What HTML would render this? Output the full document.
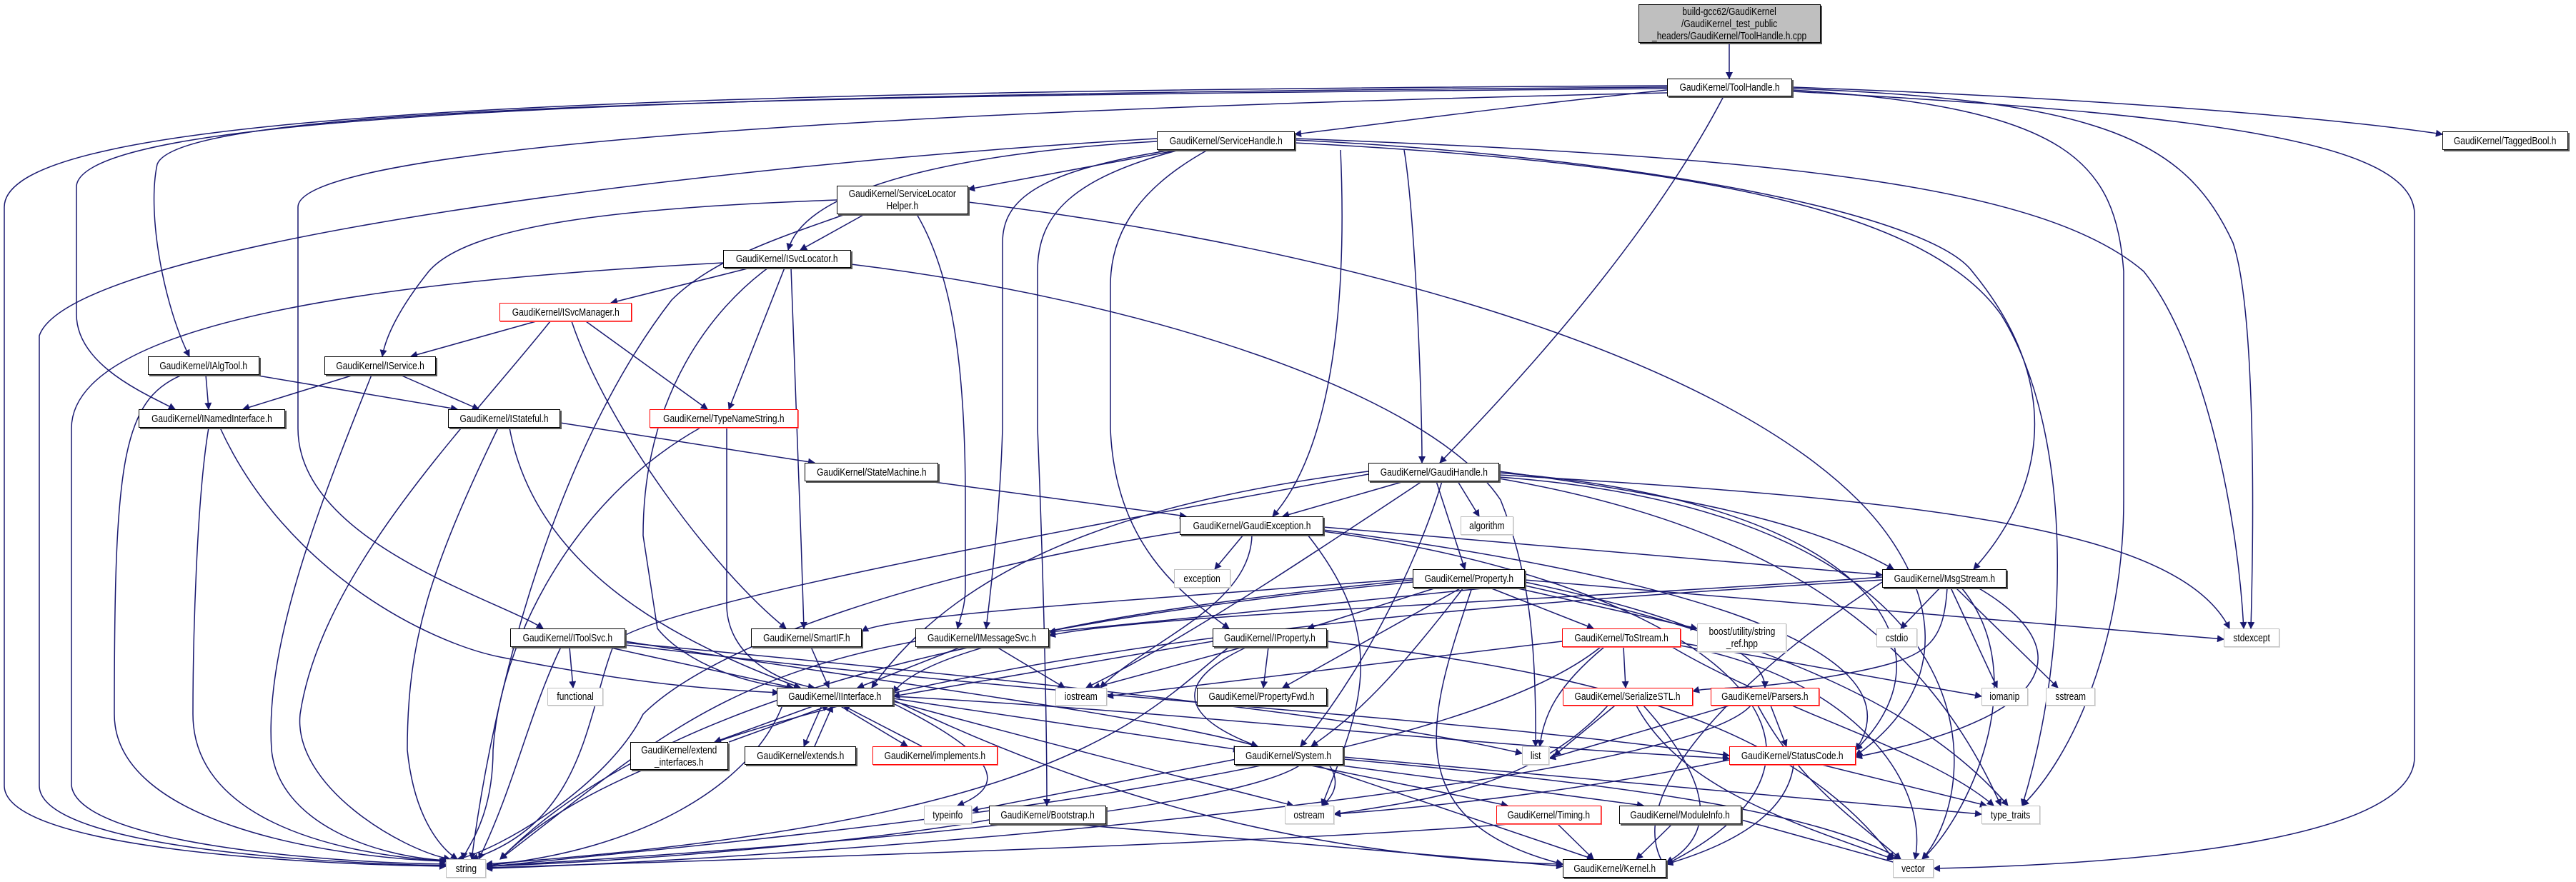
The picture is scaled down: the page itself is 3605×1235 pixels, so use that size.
<!DOCTYPE html>
<html><head><meta charset="utf-8"><style>
html,body{margin:0;padding:0;background:#fff;}
#c{position:relative;width:3605px;height:1235px;overflow:hidden;background:#fff;}
svg{position:absolute;left:0;top:0;}
.n{position:absolute;box-sizing:border-box;border:1.5px solid #000;box-shadow:2px 2px 0 #555;background:#fff;font-family:"Liberation Sans",sans-serif;font-size:15px;color:#000;display:flex;align-items:center;justify-content:center;text-align:center;line-height:17px;white-space:nowrap;}
.n span{display:inline-block;transform:scaleX(0.8);}
.g{border-color:#c0c0c0;box-shadow:1px 1px 0 #ddd;}
.r{border-color:#ff0000;box-shadow:1px 1px 0 #f66;}
</style></head><body><div id="c">
<svg width="3605" height="1235" viewBox="0 0 3605 1235">
<defs><marker id="a" viewBox="0 0 10 10" refX="9" refY="5" markerWidth="12" markerHeight="10" markerUnits="userSpaceOnUse" orient="auto"><path d="M0,0 L10,5 L0,10 z" fill="#191970"/></marker></defs>
<g fill="none" stroke="#191970" stroke-width="1.5" marker-end="url(#a)">
<path d="M2420 60 L2420 110"/>
<!-- ToolHandle -->
<path d="M2333 126 C2100 150 1900 178 1812 188"/>
<path d="M2412 135 C2300 350 2100 560 2015 648"/>
<path d="M2508 122 C3000 140 3300 170 3418 188"/>
<path d="M2333 124 C1000 135 250 150 220 230 C205 300 230 430 265 499"/>
<path d="M2333 122 C900 132 120 160 107 260 L107 440 C107 510 200 550 245 573"/>
<path d="M2333 120 C800 128 6 160 6 290 L6 1100 C6 1185 400 1210 624 1213"/>
<path d="M2333 130 C1000 160 417 220 417 290 L417 600 C417 760 700 840 760 880"/>
<path d="M2508 124 C2950 140 3060 200 3125 340 C3155 430 3155 700 3150 880"/>
<path d="M2508 126 C2900 150 2960 230 2972 380 L2972 700 C2972 900 2900 1060 2830 1128"/>
<path d="M2508 128 C3100 160 3379 200 3379 300 L3379 1060 C3379 1190 2900 1212 2706 1216"/>
<!-- ServiceHandle -->
<path d="M1650 210 L1355 265"/>
<path d="M1619 198 C1400 210 1130 250 1103 350"/>
<path d="M1876 210 C1880 300 1890 600 1781 723"/>
<path d="M1965 210 C1980 300 1990 550 1990 648"/>
<path d="M1640 210 C1450 240 1403 280 1403 340 L1403 600 C1400 700 1390 800 1380 880"/>
<path d="M1650 210 C1500 250 1452 300 1452 380 L1452 600 C1460 800 1465 1000 1465 1128"/>
<path d="M1690 210 C1600 260 1554 320 1554 400 L1554 600 C1560 760 1650 830 1720 880"/>
<path d="M1812 196 C2300 220 2700 300 2760 380 C2900 550 2850 700 2762 797"/>
<path d="M1812 194 C2500 220 2860 260 3000 380 C3080 480 3130 700 3140 880"/>
<path d="M1812 200 C2400 230 2700 300 2800 440 C2900 600 2900 900 2830 1128"/>
<path d="M1619 194 C1000 230 100 340 55 470 L55 1100 C55 1180 400 1208 624 1212"/>
<!-- SLH -->
<path d="M1210 300 L1120 350"/>
<path d="M1171 280 C900 290 660 310 600 380 C560 430 540 470 535 499"/>
<path d="M1283 300 C1330 380 1351 500 1351 700 L1351 820 C1351 850 1345 860 1340 880"/>
<path d="M1355 283 C1900 350 2400 500 2600 700 C2700 800 2750 950 2597 1058"/>
<path d="M1183 300 C1100 330 1000 360 940 420 C800 600 700 900 660 1203"/>
<!-- ISvcLocator -->
<path d="M1050 375 L855 424"/>
<path d="M1098 375 L1020 573"/>
<path d="M1107 375 C1110 500 1120 700 1125 880"/>
<path d="M1075 375 C1000 430 900 550 900 750 L920 880 C960 930 1050 960 1110 963"/>
<path d="M1191 370 C1600 420 2000 550 2100 700 C2140 800 2150 900 2149 1045"/>
<path d="M1012 368 C600 390 100 440 100 600 L100 1100 C110 1180 450 1208 624 1210"/>
<!-- ISvcManager -->
<path d="M750 450 L575 499"/>
<path d="M820 450 L990 573"/>
<path d="M800 450 C850 600 1000 800 1100 880"/>
<path d="M770 450 C650 600 450 800 420 1000 C410 1100 560 1190 630 1203"/>
<!-- IAlgTool / IService -->
<path d="M288 525 L292 573"/>
<path d="M355 525 L640 573"/>
<path d="M255 525 C170 560 160 650 160 1000 C160 1150 450 1200 624 1206"/>
<path d="M495 525 L340 573"/>
<path d="M560 525 L670 573"/>
<path d="M520 525 C450 700 370 900 380 1050 C390 1150 520 1200 628 1205"/>
<!-- INamedInterface / IStateful / TNS -->
<path d="M308 599 C400 800 600 900 700 920 C900 960 1000 965 1090 970"/>
<path d="M292 599 C275 700 270 900 270 1000 C270 1140 450 1195 626 1206"/>
<path d="M784 592 L1140 648"/>
<path d="M713 599 C750 800 950 900 1120 963"/>
<path d="M697 599 C600 800 570 900 570 1050 C580 1150 620 1190 640 1203"/>
<path d="M980 599 C800 700 700 900 690 1050 C690 1150 650 1190 648 1203"/>
<path d="M1017 599 L1017 850 C1020 920 1090 955 1140 963"/>
<!-- StateMachine -->
<path d="M1300 674 L1660 723"/>
<!-- GaudiHandle -->
<path d="M1965 674 L1795 723"/>
<path d="M2040 674 L2070 723"/>
<path d="M2010 674 L2050 797"/>
<path d="M2098 660 C2400 700 2550 740 2650 797"/>
<path d="M2018 674 C1980 800 1900 950 1820 1045"/>
<path d="M1990 674 C1800 800 1650 900 1520 963"/>
<path d="M1915 660 C1600 700 1350 780 1220 963"/>
<path d="M1915 664 C1500 740 900 850 860 900 C820 1000 820 1150 660 1203"/>
<path d="M2098 665 C2700 700 3050 740 3120 880"/>
<path d="M2098 670 C2500 740 2700 900 2800 1128"/>
<path d="M2098 668 C2800 720 2780 1100 2690 1203"/>
<path d="M2098 662 C2600 700 2750 900 2597 1050"/>
<!-- GaudiException -->
<path d="M1740 749 L1700 797"/>
<path d="M1852 738 L2634 805"/>
<path d="M1752 749 C1750 850 1600 900 1540 963"/>
<path d="M1830 749 C1950 900 1900 1000 1850 1128"/>
<path d="M1852 742 C2300 800 2700 900 2597 1050"/>
<path d="M1651 745 C1300 800 1000 900 900 1000 C850 1100 700 1190 640 1203"/>
<path d="M1852 744 C2400 820 2650 1050 2332 1210"/>
<!-- Property -->
<path d="M2010 823 L1830 880"/>
<path d="M2045 823 L1795 963"/>
<path d="M2085 823 L2230 880"/>
<path d="M2120 823 L2375 880"/>
<path d="M2048 823 C1950 950 1900 1000 1835 1045"/>
<path d="M2134 815 C2300 850 2470 900 2470 963"/>
<path d="M2060 823 C2000 1000 1950 1150 2187 1210"/>
<path d="M2134 812 L3112 895"/>
<path d="M1977 810 C1600 840 1250 860 1206 884"/>
<path d="M2134 818 C1800 850 1500 880 1468 885"/>
<path d="M1977 812 C1600 850 1300 900 1250 970"/>
<path d="M1977 815 C1300 880 900 1000 700 1203"/>
<path d="M2134 820 C2500 900 2700 1000 2810 1128"/>
<!-- MsgStream -->
<path d="M2715 823 L2660 880"/>
<path d="M2730 823 L2795 963"/>
<path d="M2737 823 L2880 963"/>
<path d="M2768 823 C2900 900 2900 1000 2597 1060"/>
<path d="M2725 823 C2720 900 2700 920 2600 940 C2450 970 2400 960 2369 968"/>
<path d="M2634 808 C2200 840 1600 860 1468 890"/>
<path d="M2634 812 C2200 840 1000 900 700 1203"/>
<path d="M2634 815 C2500 900 2250 1100 2332 1216"/>
<path d="M2745 823 C2850 950 2750 1150 2690 1203"/>
<!-- IToolSvc -->
<path d="M797 906 L802 963"/>
<path d="M850 906 L1110 963"/>
<path d="M875 898 C1200 950 1600 1000 1760 1045"/>
<path d="M875 900 C1400 950 1900 1000 2130 1055"/>
<path d="M875 903 C1500 980 2000 1000 2420 1058"/>
<path d="M785 906 C740 1000 720 1100 670 1203"/>
<!-- SmartIF / IMessageSvc / IProperty -->
<path d="M1135 906 L1160 963"/>
<path d="M1345 906 L1200 963"/>
<path d="M1395 906 L1490 963"/>
<path d="M1281 898 C1000 950 900 1050 700 1203"/>
<path d="M1697 898 L1250 975"/>
<path d="M1740 906 L1530 963"/>
<path d="M1775 906 L1768 963"/>
<path d="M1745 906 C1650 950 1640 1000 1760 1045"/>
<path d="M1720 906 C1600 1000 1500 1150 680 1210"/>
<path d="M1857 898 C2200 940 2500 1000 2650 1203"/>
<!-- ToStream -->
<path d="M2272 906 L2275 963"/>
<path d="M2186 898 L1549 975"/>
<path d="M2352 900 L2773 975"/>
<path d="M2245 906 C2180 960 2160 1000 2155 1045"/>
<path d="M2340 906 C2500 1000 2700 1050 2790 1128"/>
<path d="M2352 904 C2600 950 2700 1100 2680 1203"/>
<path d="M2240 906 C2000 1100 1000 1180 680 1214"/>
<!-- IInterface -->
<path d="M1140 988 L1000 1039"/>
<path d="M1020 1039 L1160 988"/>
<path d="M1150 988 L1125 1045"/>
<path d="M1140 1045 L1165 988"/>
<path d="M1175 988 L1270 1045"/>
<path d="M1290 1045 L1180 988"/>
<path d="M1250 978 L1735 1050"/>
<path d="M1250 985 C1400 1060 1410 1100 1340 1128"/>
<path d="M1250 982 C1500 1050 1700 1100 1810 1128"/>
<path d="M1250 980 C1500 1100 1800 1200 2187 1210"/>
<path d="M1250 975 C1700 1000 2000 1040 2420 1062"/>
<path d="M1095 988 C1050 1100 900 1190 680 1212"/>
<!-- SerializeSTL / Parsers -->
<path d="M2260 988 L2175 1058"/>
<path d="M2290 988 C2350 1100 2500 1150 2650 1203"/>
<path d="M2250 988 C2150 1100 2000 1120 1867 1140"/>
<path d="M2300 988 C2400 1100 2400 1170 2332 1208"/>
<path d="M2478 988 L2500 1045"/>
<path d="M2420 988 L2168 1062"/>
<path d="M2460 988 C2520 1100 2600 1150 2660 1203"/>
<path d="M2450 988 C2350 1100 1200 1200 680 1216"/>
<!-- System -->
<path d="M1735 1062 L1360 1135"/>
<path d="M1830 1071 L2110 1128"/>
<path d="M1870 1071 L2300 1128"/>
<path d="M1840 1071 L2230 1203"/>
<path d="M1820 1071 C1700 1150 900 1200 680 1213"/>
<path d="M1860 1071 C1880 1100 1860 1120 1850 1128"/>
<path d="M1880 1063 C2300 1100 2550 1140 2660 1203"/>
<path d="M1880 1060 L2773 1140"/>
<!-- StatusCode -->
<path d="M2550 1071 L2780 1128"/>
<path d="M2510 1071 C2500 1150 2400 1190 2332 1210"/>
<path d="M2420 1064 C2200 1110 2000 1130 1867 1140"/>
<!-- Timing / ModuleInfo / Bootstrap -->
<path d="M2180 1154 L2230 1203"/>
<path d="M2110 1154 C1800 1180 1000 1205 680 1215"/>
<path d="M2340 1154 L2290 1203"/>
<path d="M2437 1148 L2660 1210"/>
<path d="M1500 1154 L2187 1213"/>
<path d="M1384 1148 C1200 1180 900 1205 680 1213"/>
</g>
</svg>
<div class="n" style="left:2293px;top:6px;width:255px;height:54px;background:#bfbfbf;"><span>build-gcc62/GaudiKernel<br>/GaudiKernel_test_public<br>_headers/GaudiKernel/ToolHandle.h.cpp</span></div>
<div class="n" style="left:2333px;top:110px;width:175px;height:25px;"><span>GaudiKernel/ToolHandle.h</span></div>
<div class="n" style="left:3418px;top:184px;width:176px;height:26px;"><span>GaudiKernel/TaggedBool.h</span></div>
<div class="n" style="left:1619px;top:184px;width:193px;height:26px;"><span>GaudiKernel/ServiceHandle.h</span></div>
<div class="n" style="left:1171px;top:260px;width:184px;height:40px;"><span>GaudiKernel/ServiceLocator<br>Helper.h</span></div>
<div class="n" style="left:1012px;top:350px;width:179px;height:25px;"><span>GaudiKernel/ISvcLocator.h</span></div>
<div class="n r" style="left:699px;top:424px;width:185px;height:26px;"><span>GaudiKernel/ISvcManager.h</span></div>
<div class="n" style="left:207px;top:499px;width:156px;height:26px;"><span>GaudiKernel/IAlgTool.h</span></div>
<div class="n" style="left:454px;top:499px;width:156px;height:26px;"><span>GaudiKernel/IService.h</span></div>
<div class="n" style="left:194px;top:573px;width:205px;height:26px;"><span>GaudiKernel/INamedInterface.h</span></div>
<div class="n" style="left:627px;top:573px;width:157px;height:26px;"><span>GaudiKernel/IStateful.h</span></div>
<div class="n r" style="left:909px;top:573px;width:208px;height:26px;"><span>GaudiKernel/TypeNameString.h</span></div>
<div class="n" style="left:1126px;top:648px;width:187px;height:26px;"><span>GaudiKernel/StateMachine.h</span></div>
<div class="n" style="left:1915px;top:648px;width:183px;height:26px;"><span>GaudiKernel/GaudiHandle.h</span></div>
<div class="n" style="left:1651px;top:723px;width:201px;height:26px;"><span>GaudiKernel/GaudiException.h</span></div>
<div class="n g" style="left:2044px;top:723px;width:74px;height:26px;"><span>algorithm</span></div>
<div class="n g" style="left:1643px;top:797px;width:79px;height:26px;"><span>exception</span></div>
<div class="n" style="left:1977px;top:797px;width:157px;height:26px;"><span>GaudiKernel/Property.h</span></div>
<div class="n" style="left:2634px;top:797px;width:174px;height:26px;"><span>GaudiKernel/MsgStream.h</span></div>
<div class="n" style="left:714px;top:880px;width:161px;height:26px;"><span>GaudiKernel/IToolSvc.h</span></div>
<div class="n" style="left:1051px;top:880px;width:155px;height:26px;"><span>GaudiKernel/SmartIF.h</span></div>
<div class="n" style="left:1281px;top:880px;width:187px;height:26px;"><span>GaudiKernel/IMessageSvc.h</span></div>
<div class="n" style="left:1697px;top:880px;width:160px;height:26px;"><span>GaudiKernel/IProperty.h</span></div>
<div class="n r" style="left:2186px;top:880px;width:166px;height:26px;"><span>GaudiKernel/ToStream.h</span></div>
<div class="n g" style="left:2375px;top:873px;width:125px;height:40px;"><span>boost/utility/string<br>_ref.hpp</span></div>
<div class="n g" style="left:2626px;top:880px;width:57px;height:26px;"><span>cstdio</span></div>
<div class="n g" style="left:3112px;top:880px;width:78px;height:26px;"><span>stdexcept</span></div>
<div class="n g" style="left:766px;top:963px;width:78px;height:25px;"><span>functional</span></div>
<div class="n" style="left:1087px;top:963px;width:163px;height:25px;"><span>GaudiKernel/IInterface.h</span></div>
<div class="n g" style="left:1477px;top:963px;width:72px;height:25px;"><span>iostream</span></div>
<div class="n" style="left:1675px;top:963px;width:182px;height:25px;"><span>GaudiKernel/PropertyFwd.h</span></div>
<div class="n r" style="left:2187px;top:963px;width:182px;height:25px;"><span>GaudiKernel/SerializeSTL.h</span></div>
<div class="n r" style="left:2394px;top:963px;width:152px;height:25px;"><span>GaudiKernel/Parsers.h</span></div>
<div class="n g" style="left:2773px;top:963px;width:65px;height:25px;"><span>iomanip</span></div>
<div class="n g" style="left:2863px;top:963px;width:69px;height:25px;"><span>sstream</span></div>
<div class="n" style="left:882px;top:1039px;width:137px;height:39px;"><span>GaudiKernel/extend<br>_interfaces.h</span></div>
<div class="n" style="left:1042px;top:1045px;width:156px;height:26px;"><span>GaudiKernel/extends.h</span></div>
<div class="n r" style="left:1221px;top:1045px;width:175px;height:26px;"><span>GaudiKernel/implements.h</span></div>
<div class="n" style="left:1727px;top:1045px;width:153px;height:26px;"><span>GaudiKernel/System.h</span></div>
<div class="n g" style="left:2130px;top:1045px;width:38px;height:26px;"><span>list</span></div>
<div class="n r" style="left:2420px;top:1045px;width:177px;height:26px;"><span>GaudiKernel/StatusCode.h</span></div>
<div class="n g" style="left:1293px;top:1128px;width:67px;height:26px;"><span>typeinfo</span></div>
<div class="n" style="left:1384px;top:1128px;width:164px;height:26px;"><span>GaudiKernel/Bootstrap.h</span></div>
<div class="n g" style="left:1798px;top:1128px;width:69px;height:26px;"><span>ostream</span></div>
<div class="n r" style="left:2094px;top:1128px;width:147px;height:26px;"><span>GaudiKernel/Timing.h</span></div>
<div class="n" style="left:2266px;top:1128px;width:171px;height:26px;"><span>GaudiKernel/ModuleInfo.h</span></div>
<div class="n g" style="left:2773px;top:1128px;width:82px;height:26px;"><span>type_traits</span></div>
<div class="n g" style="left:624px;top:1203px;width:56px;height:26px;"><span>string</span></div>
<div class="n" style="left:2187px;top:1203px;width:145px;height:26px;"><span>GaudiKernel/Kernel.h</span></div>
<div class="n g" style="left:2649px;top:1203px;width:57px;height:26px;"><span>vector</span></div>
</div></body></html>
